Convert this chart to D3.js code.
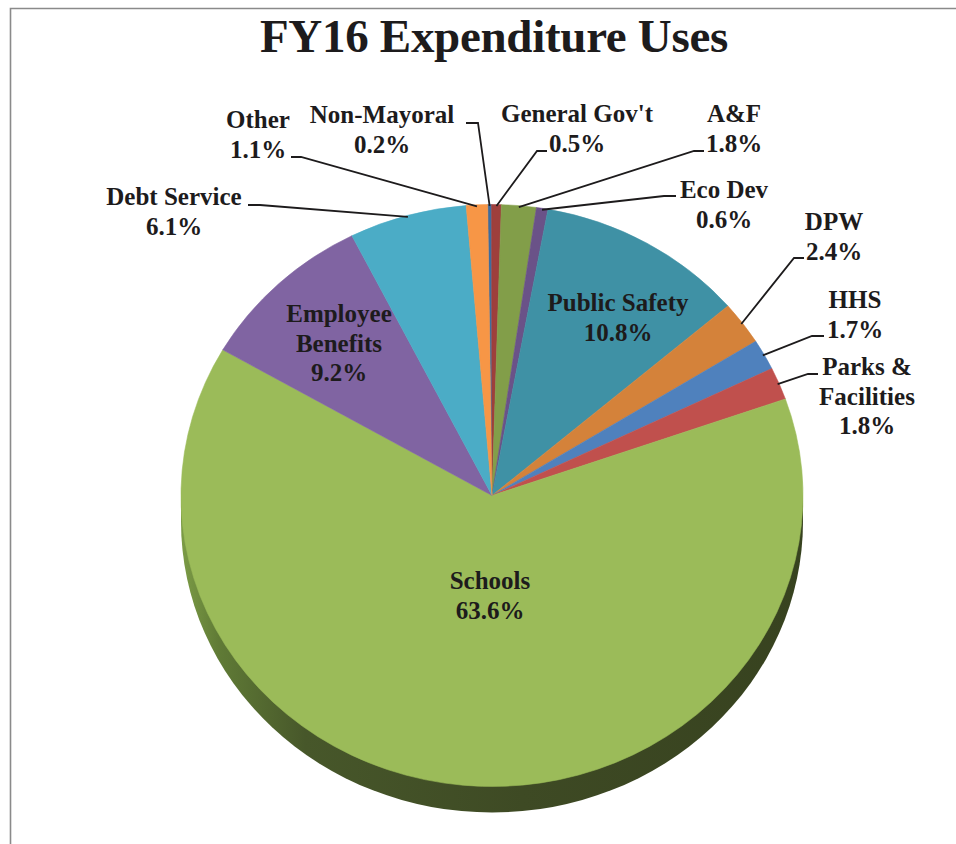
<!DOCTYPE html>
<html>
<head>
<meta charset="utf-8">
<script src="https://cdn.jsdelivr.net/npm/d3@7"></script>
<style>
  html, body { margin: 0; padding: 0; background: #fff; }
  svg { display: block; }
  text { font-family: "Liberation Serif", "Times New Roman", serif; fill: #1d1b1c; }
</style>
</head>
<body>
<svg id="chart" width="956" height="844"></svg>
<script>
// FY16 expenditure shares (percent), clockwise from the top of the pie
const categories = ["Non-Mayoral", "General Gov't", "A&F", "Eco Dev", "Public Safety", "DPW",
                    "HHS", "Parks & Facilities", "Schools", "Employee Benefits", "Debt Service", "Other"];
const shares = [0.2, 0.5, 1.8, 0.6, 10.8, 2.4, 1.7, 1.8, 63.6, 9.2, 6.1, 1.1];
const sliceColors = ["#3E6C9E", "#9E3F3C", "#829E49", "#6A5288", "#3F91A5", "#D4823A",
                     "#4F81BD", "#C0504D", "#9BBB59", "#8064A2", "#4BACC6", "#F79646"];
// text lines of each label (name lines; the percentage line is added from shares)
const labelNames = [["Non-Mayoral"], ["General Gov't"], ["A&F"], ["Eco Dev"], ["Public Safety"], ["DPW"],
                    ["HHS"], ["Parks &", "Facilities"], ["Schools"], ["Employee", "Benefits"], ["Debt Service"], ["Other"]];

const title = "FY16 Expenditure Uses";

// ---- layout ----
const W = 956, H = 844;
const cx = 492, cy = 495.5, rx = 311, ry = 291, depth = 26;
const startOffset = -0.8 * Math.PI / 180;

// label placement: centre x, first baseline; leader: start point and elbow x
const labelLayout = {
  "Non-Mayoral":        { x: 382, y: 123, leader: [466, 123, 478] },
  "General Gov't":      { x: 577, y: 122, leader: [547, 151, 537] },
  "A&F":                { x: 734, y: 122, leader: [704, 151, 694] },
  "Eco Dev":            { x: 724, y: 198, leader: [676, 196, 664] },
  "Public Safety":      { x: 618, y: 311 },
  "DPW":                { x: 834, y: 230, leader: [804, 258, 794] },
  "HHS":                { x: 855, y: 308, leader: [824, 336, 812] },
  "Parks & Facilities": { x: 867, y: 375, leader: [818, 374, 808] },
  "Schools":            { x: 490, y: 589 },
  "Employee Benefits":  { x: 339, y: 322 },
  "Debt Service":       { x: 174, y: 205, leader: [248, 205, 260] },
  "Other":              { x: 258, y: 128, leader: [291, 157, 301] }
};
const lineStep = 29.5;

const svg = d3.select("#chart");

// frame
svg.append("path")
  .attr("d", `M10.5,${H} L10.5,8.5 L${W},8.5`)
  .attr("fill", "none").attr("stroke", "#8a8a8a").attr("stroke-width", 1.6);

// title
svg.append("text")
  .attr("x", 494).attr("y", 52)
  .attr("text-anchor", "middle")
  .attr("font-size", 47).attr("font-weight", "bold")
  .attr("letter-spacing", -0.3)
  .text(title);

// side wall gradient
const defs = svg.append("defs");
const grad = defs.append("linearGradient").attr("id", "wall")
  .attr("x1", "0%").attr("x2", "100%").attr("y1", "0%").attr("y2", "0%");
[["0%", "#7C9C46"], ["6%", "#607B36"], ["20%", "#47572A"], ["55%", "#3E4A24"], ["100%", "#37421F"]]
  .forEach(([o, c]) => grad.append("stop").attr("offset", o).attr("stop-color", c));

svg.append("path")
  .attr("d", `M${cx - rx},${cy} L${cx - rx},${cy + depth} A${rx},${ry} 0 0 0 ${cx + rx},${cy + depth} L${cx + rx},${cy} Z`)
  .attr("fill", "url(#wall)");

// top face: circular pie squashed vertically into an ellipse
const data = categories.map((c, i) => ({ name: c, value: shares[i], color: sliceColors[i], lines: labelNames[i] }));
const pie = d3.pie().value(d => d.value).sort(null)
  .startAngle(startOffset).endAngle(startOffset + 2 * Math.PI);
const arcs = pie(data);
const arc = d3.arc().innerRadius(0).outerRadius(rx);

const face = svg.append("g").attr("transform", `translate(${cx},${cy}) scale(1,${ry / rx})`);
face.selectAll("path").data(arcs).join("path")
  .attr("d", arc)
  .attr("fill", d => d.data.color)
  .attr("stroke", d => d.data.color)
  .attr("stroke-width", 0.6);

// point on the ellipse rim at a pie angle
const rim = (a, k = 1) => [cx + k * rx * Math.sin(a), cy - k * ry * Math.cos(a)];

// leader lines
arcs.forEach(a => {
  const L = labelLayout[a.data.name];
  if (!L.leader) return;
  const [sx, sy, ex] = L.leader;
  const mid = (a.startAngle + a.endAngle) / 2;
  const [px, py] = rim(mid, 0.995);
  svg.append("path")
    .attr("d", `M${sx},${sy} L${ex},${sy} L${px},${py}`)
    .attr("fill", "none").attr("stroke", "#1d1b1c").attr("stroke-width", 1.8);
});

// labels
arcs.forEach(a => {
  const L = labelLayout[a.data.name];
  const lines = a.data.lines.concat([d3.format(".1f")(a.data.value) + "%"]);
  const t = svg.append("text")
    .attr("text-anchor", "middle")
    .attr("font-size", 25).attr("font-weight", "bold");
  lines.forEach((s, i) => {
    t.append("tspan").attr("x", L.x).attr("y", L.y + i * lineStep).text(s);
  });
});
</script>
</body>
</html>
